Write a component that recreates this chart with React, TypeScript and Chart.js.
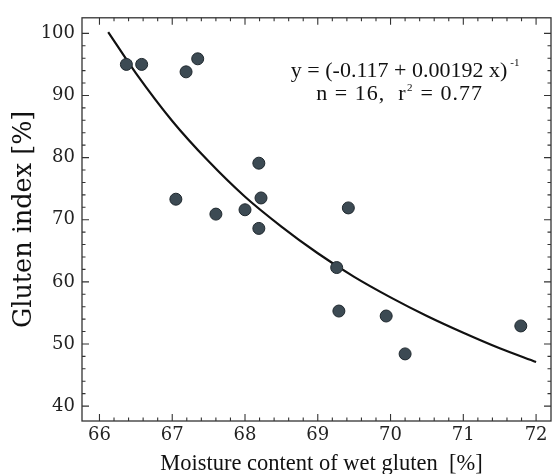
import React, { useEffect, useRef } from 'react';
import { Chart, registerables } from 'chart.js';

Chart.register(...registerables);

// Observed data: moisture content of wet gluten [%] vs gluten index [%]
const moisture = [66.37, 66.58, 67.19, 67.35, 67.05, 67.6, 68.0, 68.19, 68.22, 68.19, 69.42, 69.26, 69.29, 69.94, 70.2, 71.79];
const glutenIndex = [95.0, 95.0, 93.8, 95.9, 73.3, 70.9, 71.6, 79.1, 73.5, 68.6, 71.9, 62.3, 55.3, 54.5, 48.4, 52.9];

// Fitted curve
const fitX = [66.12, 66.5, 67.0, 67.5, 68.0, 68.5, 69.0, 69.5, 70.0, 70.5, 71.0, 71.5, 72.0];
const fitY = [100.2, 93.6, 85.9, 79.4, 73.7, 68.9, 64.6, 60.8, 57.5, 54.5, 51.8, 49.3, 47.1];

const xTickValues = [66, 67, 68, 69, 70, 71, 72];
const yTickValues = [40, 50, 60, 70, 80, 90, 100];

const xTitle = 'Moisture content of wet gluten  [%]';
const yTitle = 'Gluten index [%]';
const eqLine1 = 'y = (-0.117 + 0.00192 x)';
const eqSup1 = '-1';
const eqLine2a = 'n = 16,  r';
const eqSup2 = '2';
const eqLine2b = ' = 0.77';

const serif = '"Liberation Serif", "Times New Roman", serif';

const frameTicksPlugin = {
  id: 'frameTicks',
  afterDatasetsDraw(chart: any) {
    const { ctx, chartArea, scales } = chart;
    const { left, top, right, bottom } = chartArea;
    const x = scales.x;
    const y = scales.y;
    ctx.save();
    ctx.strokeStyle = '#333';
    ctx.lineWidth = 1.3;
    ctx.strokeRect(left, top, right - left, bottom - top);
    ctx.lineWidth = 1.1;
    ctx.beginPath();
    for (let i = Math.ceil(x.min * 5); i <= Math.floor(x.max * 5); i++) {
      const v = i / 5;
      const p = x.getPixelForValue(v);
      if (p - left < 4 || right - p < 4) continue;
      const len = i % 5 === 0 ? 7 : 3.5;
      ctx.moveTo(p, bottom);
      ctx.lineTo(p, bottom - len);
      ctx.moveTo(p, top);
      ctx.lineTo(p, top + len);
    }
    for (let i = Math.ceil(y.min / 2); i <= Math.floor(y.max / 2); i++) {
      const v = i * 2;
      const p = y.getPixelForValue(v);
      if (p - top < 4 || bottom - p < 4) continue;
      const len = v % 10 === 0 ? 7 : 3.5;
      ctx.moveTo(left, p);
      ctx.lineTo(left + len, p);
      ctx.moveTo(right, p);
      ctx.lineTo(right - len, p);
    }
    ctx.stroke();
    ctx.restore();
  },
  afterDraw(chart: any) {
    const { ctx, scales } = chart;
    const x = scales.x;
    const y = scales.y;
    ctx.save();
    ctx.fillStyle = '#111';
    ctx.textBaseline = 'alphabetic';
    ctx.textAlign = 'left';
    const mainFont = '22px ' + serif;
    const supFont = '11px ' + serif;
    // equation line 1
    let px = x.getPixelForValue(68.63);
    let py = y.getPixelForValue(92.96);
    ctx.font = mainFont;
    ctx.fillText(eqLine1, px, py);
    let w = ctx.measureText(eqLine1).width;
    ctx.font = supFont;
    ctx.fillText(eqSup1, px + w + 3, py - 11);
    // equation line 2
    px = x.getPixelForValue(68.98);
    py = y.getPixelForValue(89.3);
    (ctx as any).letterSpacing = '1px';
    ctx.font = mainFont;
    ctx.fillText(eqLine2a, px, py);
    w = ctx.measureText(eqLine2a).width;
    ctx.font = supFont;
    ctx.fillText(eqSup2, px + w + 0.5, py - 9);
    const ws = ctx.measureText(eqSup2).width;
    ctx.font = mainFont;
    ctx.fillText(eqLine2b, px + w + ws + 1, py);
    (ctx as any).letterSpacing = '0px';
    // x-axis title
    ctx.font = '22.5px ' + serif;
    ctx.textAlign = 'center';
    ctx.fillText(xTitle, x.getPixelForValue(69.05), 470);
    ctx.restore();
  },
};

export default function App() {
  const canvasRef = useRef<HTMLCanvasElement | null>(null);

  useEffect(() => {
    const canvas = canvasRef.current;
    if (!canvas) return;
    const points = moisture.map((m, i) => ({ x: m, y: glutenIndex[i] }));
    const curve = fitX.map((m, i) => ({ x: m, y: fitY[i] }));
    const tickFont = { family: '"DejaVu Serif", serif', size: 18 };
    const chart = new Chart(canvas, {
      type: 'scatter',
      data: {
        datasets: [
          {
            label: 'Data',
            data: points,
            pointRadius: 6,
            pointBackgroundColor: '#3c4a53',
            pointBorderColor: '#1f282e',
            pointBorderWidth: 1,
            order: 0,
          } as any,
          {
            type: 'line',
            label: 'Fit',
            data: curve,
            showLine: true,
            borderColor: '#111',
            borderWidth: 2.2,
            pointRadius: 0,
            fill: false,
            cubicInterpolationMode: 'monotone',
            order: 1,
          } as any,
        ],
      },
      options: {
        responsive: false,
        maintainAspectRatio: false,
        animation: false,
        layout: { padding: { top: 13, right: 1, left: 0, bottom: 0 } },
        plugins: {
          legend: { display: false },
          tooltip: { enabled: false },
        },
        scales: {
          x: {
            type: 'linear',
            min: 65.76,
            max: 72.205,
            afterBuildTicks: (s: any) => {
              s.ticks = xTickValues.map((v) => ({ value: v }));
            },
            afterFit: (s: any) => {
              s.height = 53;
            },
            grid: { display: false, drawTicks: false },
            border: { display: false },
            ticks: { font: tickFont, color: '#222', padding: 4, maxRotation: 0, autoSkip: false },
            title: { display: false },
          },
          y: {
            type: 'linear',
            min: 37.6,
            max: 102.5,
            afterBuildTicks: (s: any) => {
              s.ticks = yTickValues.map((v) => ({ value: v }));
            },
            afterFit: (s: any) => {
              s.width = 82;
            },
            grid: { display: false, drawTicks: false },
            border: { display: false },
            ticks: { font: tickFont, color: '#222', padding: 7, autoSkip: false },
            title: {
              display: true,
              text: yTitle,
              color: '#111',
              font: { family: '"DejaVu Serif", serif', size: 25.5, lineHeight: 1 },
              padding: { top: 12, bottom: 0 },
            },
          },
        },
      },
      plugins: [frameTicksPlugin],
    });
    return () => chart.destroy();
  }, []);

  return (
    <div
      style={{
        position: 'fixed',
        left: 0,
        top: 0,
        width: 556,
        height: 474,
        overflow: 'hidden',
        background: '#fff',
      }}
    >
      <canvas ref={canvasRef} width={558} height={474} style={{ display: 'block' }} />
    </div>
  );
}
